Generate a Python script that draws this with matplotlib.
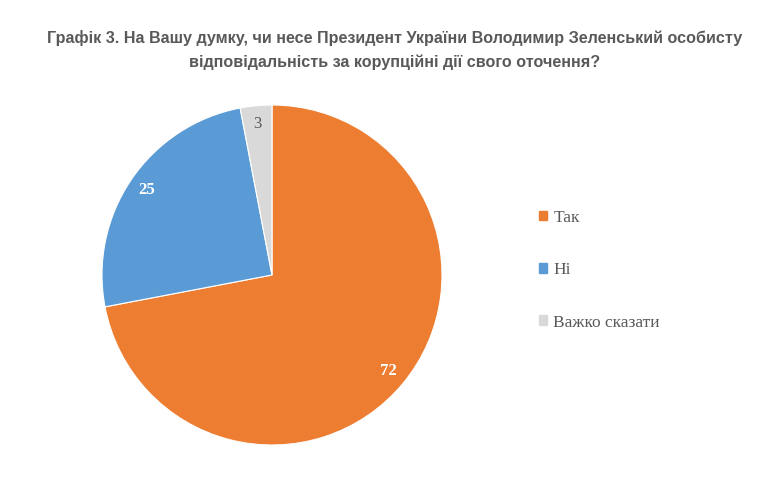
import matplotlib
matplotlib.use('Agg')
import matplotlib.pyplot as plt
import matplotlib.patches as mpatches

TITLE = ("Графік 3. На Вашу думку, чи несе Президент України Володимир Зеленський особисту\n"
         "відповідальність за корупційні дії свого оточення?")
CATEGORIES = ['Так', 'Ні', 'Важко сказати']
VALUES = [72, 25, 3]
COLORS = ['#ED7D31', '#5B9BD5', '#D9D9D9']
LABEL_COLORS = ['white', 'white', '#595959']

W, H = 767, 488
fig = plt.figure(figsize=(W / 100, H / 100), dpi=100)
fig.patch.set_facecolor('white')

# pie centre (272, 275) px, radius 170 px
cx, cy, r = 272, 275, 170
ax = fig.add_axes([(cx - r) / W, (H - cy - r) / H, 2 * r / W, 2 * r / H])
wedges, texts, autotexts = ax.pie(
    VALUES, colors=COLORS, startangle=90, counterclock=False,
    autopct=lambda p: f'{p:.0f}', pctdistance=0.89,
    wedgeprops=dict(edgecolor='white', linewidth=0.8))
for t, c in zip(autotexts, LABEL_COLORS):
    t.set_color(c)
    t.set_fontfamily('Liberation Serif')
    t.set_fontsize(12)
    t.set_fontweight('bold' if c == 'white' else 'normal')
ax.set_xlim(-1, 1)
ax.set_ylim(-1, 1)
ax.set_aspect('equal')
ax.set_axis_off()

fig.text(395 / W, 1 - 50 / H, TITLE, ha='center', va='center',
         family=['Liberation Sans Narrow', 'Liberation Sans'], fontweight='bold',
         fontsize=11.6, color='#595959', linespacing=1.75)

handles = [mpatches.Patch(color=c, label=l) for c, l in zip(COLORS, CATEGORIES)]
leg = fig.legend(handles=handles, loc='upper left', bbox_to_anchor=(530 / W, 1 - 201 / H),
                 frameon=False, prop={'family': 'Liberation Serif', 'size': 12.5},
                 handlelength=0.5, handleheight=0.5, handletextpad=0.35,
                 labelspacing=2.1, borderpad=0)
for t in leg.get_texts():
    t.set_color('#595959')

fig.savefig('out.png', dpi=100)
